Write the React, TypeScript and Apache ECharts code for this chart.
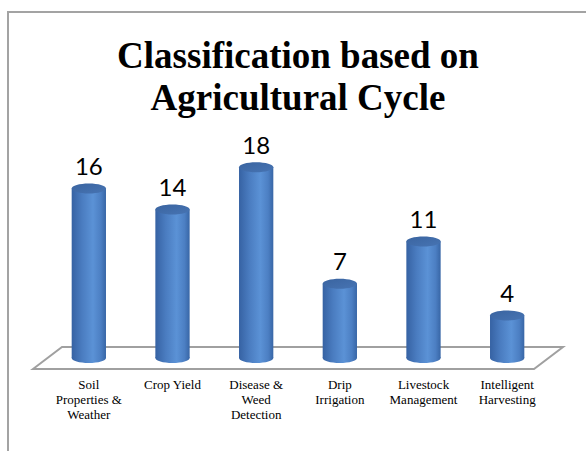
import React, { useEffect, useRef } from "react";
import * as echarts from "echarts";

const categories = [
  "Soil\nProperties &\nWeather",
  "Crop Yield",
  "Disease &\nWeed\nDetection",
  "Drip\nIrrigation",
  "Livestock\nManagement",
  "Intelligent\nHarvesting",
];
const values = [16, 14, 18, 7, 11, 4];
const titleLines = ["Classification based on", "Agricultural Cycle"];

const SERIF = "Liberation Serif";

const bodyGradient = () =>
  new echarts.graphic.LinearGradient(0, 0, 1, 0, [
    { offset: 0, color: "#3662a3" },
    { offset: 0.3, color: "#4a7cc0" },
    { offset: 0.62, color: "#5b92d6" },
    { offset: 0.85, color: "#4c7fc3" },
    { offset: 1, color: "#3866a6" },
  ]);

export default function App() {
  const ref = useRef<HTMLDivElement>(null);
  useEffect(() => {
    if (!ref.current) return;
    const chart = echarts.init(ref.current, undefined, { renderer: "svg" });
    const option: any = {
      animation: false,
      backgroundColor: "#ffffff",
      textStyle: { fontFamily: SERIF },
      grid: { left: 47, width: 502, top: 146, height: 212 },
      xAxis: {
        type: "category",
        data: categories,
        axisLine: { show: false },
        axisTick: { show: false },
        axisLabel: {
          fontFamily: SERIF,
          fontSize: 13,
          lineHeight: 15,
          color: "#000000",
          margin: 19,
          interval: 0,
        },
      },
      yAxis: {
        type: "value",
        min: 0,
        max: 20,
        show: false,
        splitLine: { show: false },
      },
      graphic: [
        {
          type: "polyline",
          shape: { points: [[8, 451], [8, 12], [586, 12]] },
          style: { stroke: "#a3a3a3", lineWidth: 2, fill: "none" },
          z: 0,
        },
        {
          type: "text",
          x: 298,
          y: 34,
          style: {
            text: titleLines.join("\n"),
            fontFamily: SERIF,
            fontWeight: "bold",
            fontSize: 37,
            lineHeight: 42,
            fill: "#000000",
            align: "center",
            verticalAlign: "top",
          },
        },
      ],
      series: [
        {
          type: "custom",
          z: 1,
          data: [0],
          silent: true,
          renderItem: (params: any, api: any) => {
            const cs = params.coordSys;
            const base = api.coord([0, 0])[1];
            const x0 = cs.x;
            const x1 = cs.x + cs.width;
            return {
              type: "polygon",
              shape: {
                points: [
                  [x0 - 14, base + 11],
                  [x0 + 15, base - 11],
                  [x1 + 14, base - 11],
                  [x1 - 15, base + 11],
                ],
              },
              style: { fill: "#ffffff", stroke: "#a0a0a0", lineWidth: 2 },
            };
          },
        },
        {
          type: "custom",
          z: 2,
          data: values.map((v, i) => [i, v]),
          silent: true,
          renderItem: (params: any, api: any) => {
            const idx = api.value(0);
            const val = api.value(1);
            const top = api.coord([idx, val]);
            const bottom = api.coord([idx, 0]);
            const band = api.size([1, 0])[0];
            const rx = band * 0.205;
            const ry = 5;
            const cx = top[0];
            return {
              type: "group",
              children: [
                {
                  type: "ellipse",
                  shape: { cx, cy: bottom[1], rx, ry },
                  style: { fill: bodyGradient() },
                },
                {
                  type: "rect",
                  shape: { x: cx - rx, y: top[1], width: rx * 2, height: bottom[1] - top[1] },
                  style: { fill: bodyGradient() },
                },
                {
                  type: "ellipse",
                  shape: { cx, cy: top[1], rx, ry },
                  style: {
                    fill: new echarts.graphic.LinearGradient(0, 0, 1, 1, [
                      { offset: 0, color: "#3a64a0" },
                      { offset: 1, color: "#4774b3" },
                    ]),
                  },
                },
                {
                  type: "text",
                  x: cx,
                  y: top[1] - 23,
                  style: {
                    text: String(val),
                    fontFamily: "Lato",
                    fontSize: 24,
                    fill: "#000000",
                    align: "center",
                    verticalAlign: "middle",
                  },
                },
              ],
            };
          },
          encode: { x: 0, y: 1 },
        },
      ],
    };
    chart.setOption(option);
    return () => chart.dispose();
  }, []);
  return (
    <div
      ref={ref}
      style={{ position: "fixed", left: 0, top: 0, width: 586, height: 451 }}
    />
  );
}
